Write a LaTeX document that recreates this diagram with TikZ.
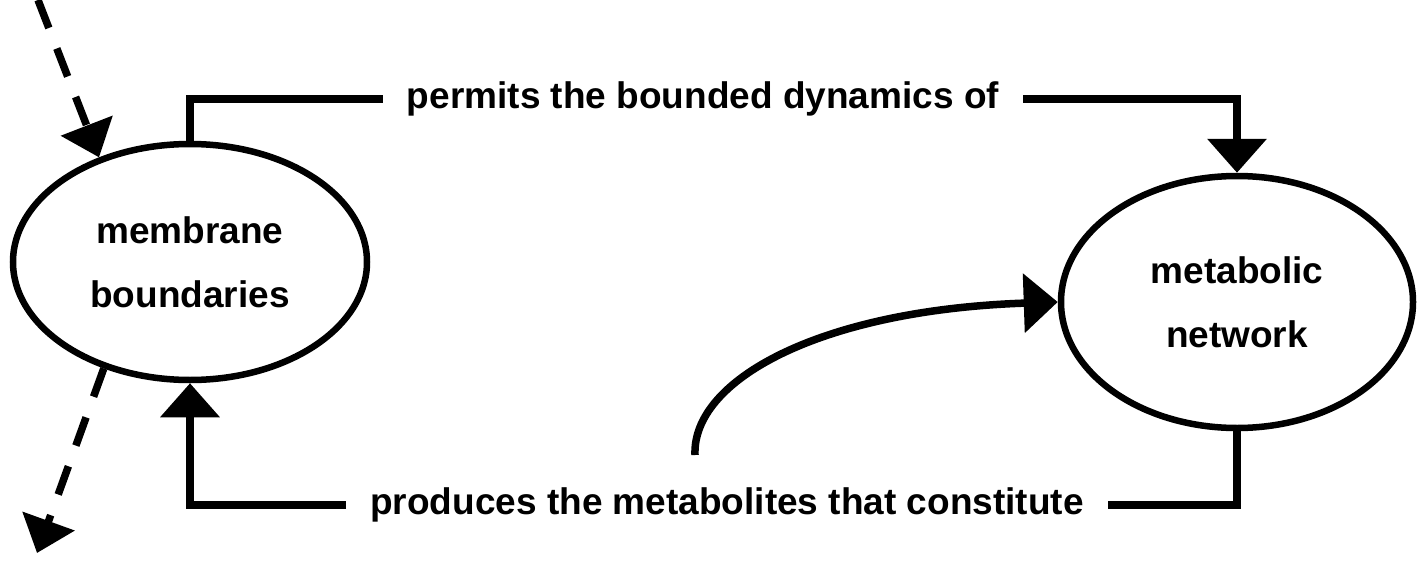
\documentclass[tikz,border=0pt]{standalone}
\usepackage{fontspec}
\setmainfont{Liberation Sans}
\usetikzlibrary{shapes.geometric,arrows.meta}
\begin{document}
\begin{tikzpicture}[x=1pt,y=-1pt,
  txt/.style={font=\bfseries\fontsize{37}{64}\selectfont},
  blob/.style={ellipse,draw,line width=6.5pt,txt,align=center,inner sep=0pt},
  lab/.style={txt,inner xsep=24pt,inner ysep=0pt},
  conn/.style={line width=7.5pt},
  bigtip/.style={-{Triangle[length=34pt,width=58pt]}},
  dashtip/.style={-{Triangle[length=34pt,width=54pt]}, dash pattern=on 30pt off 22pt}
]
\useasboundingbox (0,0) rectangle (1422,570);
\node[blob,minimum width=354pt,minimum height=236pt] (mb) at (190,262) {membrane\\boundaries};
\node[blob,minimum width=352pt,minimum height=252pt] (mn) at (1237,302) {metabolic\\network};
\node[lab] (l1) at (703,99) {permits the bounded dynamics of};
\node[lab] (l2) at (727,505) {produces the metabolites that constitute};
\coordinate (din) at (38,0);
\coordinate (dout) at (37,553);
\coordinate (cs) at (695,455);
\draw[conn] (mb.north) |- (l1.west);
\draw[conn,bigtip] (l1.east) -| (mn.north);
\draw[conn] (mn.south) |- (l2.east);
\draw[conn,bigtip] (l2.west) -| (mb.south);
\draw[conn,dashtip] (din) -- (mb.131);
\draw[conn,dashtip] (mb.231) -- (dout);
\draw[conn,bigtip] (cs) .. controls (692,380) and (820,310) .. (mn.west);
\end{tikzpicture}
\end{document}
